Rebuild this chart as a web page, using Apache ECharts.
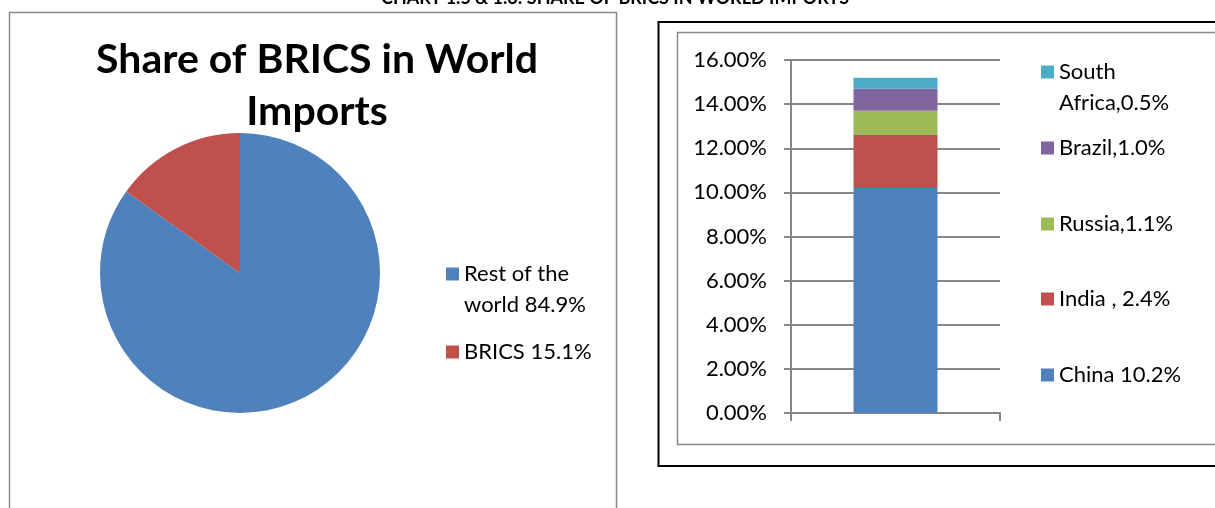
<!DOCTYPE html>
<html><head><meta charset="utf-8">
<script src="https://cdn.jsdelivr.net/npm/echarts@6/dist/echarts.min.js"></script>
<style>html,body{margin:0;padding:0;background:#fff}#c{width:1215px;height:508px}</style>
</head><body><div id="c"></div>
<script>
// ---- data ----
const pieNames = ['Rest of the world', 'BRICS'];
const pieValues = [84.9, 15.1];
const pieLegendText = ['Rest of the\nworld 84.9%', 'BRICS 15.1%'];

const countries = ['China', 'India', 'Russia', 'Brazil', 'South Africa'];
const countryValues = [10.2, 2.4, 1.1, 1.0, 0.5];
const countryLegendText = ['China 10.2%', 'India , 2.4%', 'Russia,1.1%', 'Brazil,1.0%', 'South\nAfrica,0.5%'];
const barCategory = ['BRICS'];
const yTicks = [0, 2, 4, 6, 8, 10, 12, 14, 16];

const mainTitle = 'CHART 1.5 & 1.6: SHARE OF BRICS IN WORLD IMPORTS';
const pieTitle = 'Share of BRICS in World\nImports';

const pieColors = ['#4F81BD', '#C0504D'];
const barColors = ['#4F81BD', '#C0504D', '#9BBB59', '#8064A2', '#4BACC6'];
const FONT = 'Lato';
const grey = '#868686';

const chart = echarts.init(document.getElementById('c'), null, {renderer: 'canvas'});

const legendFmt = {};
pieNames.forEach((n, i) => legendFmt[n] = pieLegendText[i]);
countries.forEach((n, i) => legendFmt[n] = countryLegendText[i]);

function mkLegend(name, left, centerY) {
  const multi = legendFmt[name].indexOf('\n') >= 0;
  const lh = 31;
  return {
    data: [name], orient: 'vertical', left: left,
    top: multi ? centerY - lh * 1.5 : centerY - lh / 2,
    padding: 0, icon: 'rect', itemWidth: 13, itemHeight: 13, itemGap: 0,
    selectedMode: false,
    // a leading blank line keeps the first text line level with the marker
    formatter: n => (multi ? '\n' : '') + legendFmt[n],
    textStyle: {fontFamily: FONT, fontSize: 22, color: '#000', lineHeight: lh}
  };
}

const legendYs = {'Rest of the world': 274, 'BRICS': 352,
  'South Africa': 72, 'Brazil': 148, 'Russia': 224, 'India': 299, 'China': 375};

const legends = [];
pieNames.forEach(n => legends.push(mkLegend(n, 446, legendYs[n])));
countries.forEach(n => legends.push(mkLegend(n, 1041, legendYs[n])));

const option = {
  animation: false,
  title: [{
    text: pieTitle, left: 312, top: 29, textAlign: 'center',
    textStyle: {fontFamily: FONT, fontWeight: 'bold', fontSize: 41, lineHeight: 52, color: '#000'}
  }],
  graphic: [
    {type: 'text', x: 615, y: 7, style: {text: mainTitle, align: 'center', verticalAlign: 'bottom',
      font: 'bold 18px ' + FONT, fill: '#000'}},
    {type: 'rect', shape: {x: 9.5, y: 12.5, width: 607, height: 520}, style: {fill: 'none', stroke: '#8a8a8a', lineWidth: 1.5}, z: -1},
    {type: 'rect', shape: {x: 658.5, y: 22, width: 620, height: 444}, style: {fill: 'none', stroke: '#000', lineWidth: 2}, z: -1},
    {type: 'rect', shape: {x: 677.5, y: 32.5, width: 620, height: 412}, style: {fill: 'none', stroke: '#8a8a8a', lineWidth: 1.5}, z: -1}
  ],
  legend: legends,
  grid: {left: 791, right: 215, top: 60, bottom: 95},
  xAxis: {
    type: 'category', data: barCategory,
    axisLine: {lineStyle: {color: grey, width: 2}},
    axisTick: {show: true, length: 8, lineStyle: {color: grey, width: 2}},
    axisLabel: {show: false}
  },
  yAxis: {
    type: 'value', min: 0, max: 16, interval: 2,
    axisLine: {show: true, lineStyle: {color: grey, width: 2}},
    axisTick: {show: true, length: 7, lineStyle: {color: grey, width: 2}},
    splitLine: {lineStyle: {color: grey, width: 2}},
    axisLabel: {fontFamily: FONT, fontSize: 22, color: '#000', margin: 24,
      formatter: v => yTicks.indexOf(v) >= 0 ? v.toFixed(2) + '%' : ''}
  },
  series: [
    {
      type: 'pie', name: 'Share', center: [240, 273], radius: 140,
      startAngle: 90, clockwise: true, label: {show: false}, labelLine: {show: false},
      emphasis: {disabled: true},
      data: pieNames.map((n, i) => ({name: n, value: pieValues[i], itemStyle: {color: pieColors[i]}}))
    }
  ].concat(countries.map((n, i) => ({
    type: 'bar', name: n, stack: 'brics', barWidth: 84,
    itemStyle: {color: barColors[i]},
    data: [countryValues[i]]
  })))
};
chart.setOption(option);
</script></body></html>
